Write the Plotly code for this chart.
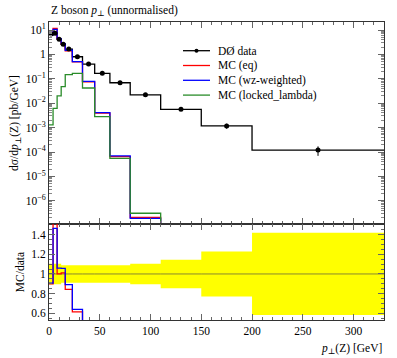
import plotly.graph_objects as go

# ---- data ----
bin_edges = [0, 4, 8, 12, 16, 23, 33, 45, 60, 80, 110, 150, 200, 330]
data_vals = [6.9, 7.3, 4.2, 2.6, 1.66, 0.80, 0.40, 0.168, 0.069, 0.022, 0.0056, 0.00117, 1.2e-4]
data_rel_err = [0.105, 0.105, 0.105, 0.09, 0.09, 0.09, 0.09, 0.09, 0.09, 0.105, 0.145, 0.23, 0.42]
data_err = [v * r for v, r in zip(data_vals, data_rel_err)]

# MC predictions (non-zero bins only, up to 110 GeV)
mc_eq = [6.2, 11.5, 4.2, 2.63, 1.40, 0.49, 0.075, 0.0039, 6.5e-5, 2.1e-7]
mc_wz = [6.25, 10.7, 4.45, 2.75, 1.48, 0.51, 0.078, 0.0041, 7.0e-5, 1.9e-7]
mc_locked = [1.3e-3, 6.2e-3, 0.020, 0.048, 0.148, 0.168, 0.042, 0.0028, 5.5e-5, 3.1e-7]

legend_names = ["DØ data", "MC (eq)", "MC (wz-weighted)", "MC (locked_lambda)"]

y_tick_vals = [1e-6, 1e-5, 1e-4, 1e-3, 1e-2, 1e-1, 1, 10]
y_tick_text = ["10<sup>−6</sup>", "10<sup>−5</sup>", "10<sup>−4</sup>", "10<sup>−3</sup>",
               "10<sup>−2</sup>", "10<sup>−1</sup>", "1", "10<sup>1</sup>"]
r_tick_vals = [0.6, 0.8, 1.0, 1.2, 1.4]
r_tick_text = ["0.6", "0.8", "1", "1.2", "1.4"]
x_tick_vals = [0, 50, 100, 150, 200, 250, 300]

YLOG_RANGE = [-6.95, 1.328]
R_RANGE = [0.53, 1.51]
X_RANGE = [0, 330]

FONT = "Liberation Serif, DejaVu Serif, serif"
RED, BLUE, GREEN = "#ff0000", "#0000ff", "#2a8c2a"
COLORS = ["black", RED, BLUE, GREEN]

W, H = 397, 358
ML, MR, MT, MB = 49, 13, 22, 38
PW, PH = W - ML - MR, H - MT - MB

centers = [(a + b) / 2 for a, b in zip(bin_edges[:-1], bin_edges[1:])]


def step(vals, edges):
    n = len(vals)
    return list(edges[: n + 1]), list(vals) + [vals[-1]]


fig = go.Figure()

# ---- ratio band ----
lo = [1 - r for r in data_rel_err]
hi = [1 + r for r in data_rel_err]
bx, by = step(lo, bin_edges)
fig.add_trace(go.Scatter(x=bx, y=by, mode="lines", line=dict(width=0, shape="hv"),
                         showlegend=False, hoverinfo="skip", xaxis="x2", yaxis="y2"))
bx, by = step(hi, bin_edges)
fig.add_trace(go.Scatter(x=bx, y=by, mode="lines", line=dict(width=0, shape="hv"),
                         fill="tonexty", fillcolor="#ffff00",
                         showlegend=False, hoverinfo="skip", xaxis="x2", yaxis="y2"))
bx, by = step([1.0] * len(data_vals), bin_edges)
fig.add_trace(go.Scatter(x=bx, y=by, mode="lines", line=dict(width=0.8, color="#6b6b3a", shape="hv"),
                         showlegend=False, hoverinfo="skip", xaxis="x2", yaxis="y2"))

# data (main)
sx, sy = step(data_vals, bin_edges)
fig.add_trace(go.Scatter(x=sx, y=sy, mode="lines", line=dict(color="black", width=1.3, shape="hv"),
                         showlegend=False, xaxis="x", yaxis="y"))

floor = 10 ** (YLOG_RANGE[0] - 1)

for vals, col in [(mc_eq, RED), (mc_wz, BLUE), (mc_locked, GREEN)]:
    sx, sy = step(vals, bin_edges)
    sx = sx + [sx[-1]]
    sy = sy + [floor]
    fig.add_trace(go.Scatter(x=sx, y=sy, mode="lines",
                             line=dict(color=col, width=1.3, shape="hv"),
                             showlegend=False, xaxis="x", yaxis="y"))
    ratio = [m / d for m, d in zip(vals, data_vals)] + [0.0] * (len(data_vals) - len(vals))
    rx, ry = step(ratio, bin_edges)
    fig.add_trace(go.Scatter(x=rx, y=ry, mode="lines", line=dict(color=col, width=1.3, shape="hv"),
                             showlegend=False, xaxis="x2", yaxis="y2"))

fig.add_trace(go.Scatter(x=centers, y=data_vals, mode="markers",
                         marker=dict(color="black", size=5),
                         error_y=dict(type="data", array=data_err, color="black", thickness=1, width=0),
                         showlegend=False, xaxis="x", yaxis="y"))

# ---- manual legend (pixel layout -> paper coords) ----
def px_x(p):
    return (p - ML) / PW


def px_y(p):
    return (H - MB - p) / PH


shapes = []
annotations = []
leg_rows = [50.7, 65.5, 80.3, 95.1]
for name, col, ry in zip(legend_names, COLORS, leg_rows):
    shapes.append(dict(type="line", xref="paper", yref="paper",
                       x0=px_x(183), x1=px_x(210), y0=px_y(ry), y1=px_y(ry),
                       line=dict(color=col, width=1.3)))
    annotations.append(dict(text=name, x=px_x(216), y=px_y(ry), xref="paper", yref="paper",
                            xanchor="left", yanchor="middle", showarrow=False,
                            font=dict(family=FONT, size=11.5, color="black")))
shapes.append(dict(type="circle", xref="paper", yref="paper",
                   x0=px_x(194.5), x1=px_x(198.5), y0=px_y(leg_rows[0] + 2), y1=px_y(leg_rows[0] - 2),
                   fillcolor="black", line=dict(color="black", width=0)))

annotations += [
    dict(text="Z boson <i>p</i><sub>⊥</sub> (unnormalised)", x=0, y=1, xref="paper", yref="paper",
         xanchor="left", yanchor="bottom", yshift=2, showarrow=False,
         font=dict(family=FONT, size=11.5)),
    dict(text="<i>p</i><sub>⊥</sub>(Z) [GeV]", x=1, y=0, xref="paper", yref="paper",
         xanchor="right", yanchor="top", yshift=-20, showarrow=False,
         font=dict(family=FONT, size=11.5)),
]

split = 96 / PH
axis_common = dict(showline=True, linecolor="#333", linewidth=1, mirror="allticks",
                   ticks="inside", tickcolor="#666", showgrid=False, zeroline=False,
                   automargin=False,
                   tickfont=dict(family=FONT, size=11.5, color="black"))

fig.update_layout(
    width=W, height=H,
    margin=dict(l=ML, r=MR, t=MT, b=MB, autoexpand=False),
    paper_bgcolor="white", plot_bgcolor="white",
    font=dict(family=FONT, size=11, color="black"),
    showlegend=False,
    shapes=shapes,
    annotations=annotations,
    xaxis=dict(range=X_RANGE, domain=[0, 1], anchor="y", showticklabels=False,
               tickvals=x_tick_vals, ticklen=6,
               minor=dict(ticks="inside", dtick=10, ticklen=3, tickcolor="#666"), **axis_common),
    yaxis=dict(type="log", range=YLOG_RANGE, domain=[split, 1], anchor="x",
               tickmode="array", tickvals=y_tick_vals, ticktext=y_tick_text, ticklen=6,
               minor=dict(ticks="inside", dtick="D1", ticklen=3, tickcolor="#888"),
               title=dict(text="dσ/d<i>p</i><sub>⊥</sub>(Z) [pb/GeV]", standoff=4,
                          font=dict(family=FONT, size=11.5)), **axis_common),
    xaxis2=dict(range=X_RANGE, domain=[0, 1], anchor="y2", tickvals=x_tick_vals, ticklen=6,
                minor=dict(ticks="inside", dtick=10, ticklen=3, tickcolor="#666"), **axis_common),
    yaxis2=dict(range=R_RANGE, domain=[0, split], anchor="x2", tickmode="array",
                tickvals=r_tick_vals, ticktext=r_tick_text, ticklen=6,
                minor=dict(ticks="inside", dtick=0.05, ticklen=3, tickcolor="#666"),
                title=dict(text="MC/data", standoff=4, font=dict(family=FONT, size=11.5)),
                **axis_common),
)

fig.write_html("out.html", config={"displayModeBar": False, "staticPlot": True})

# remove default page margin so the figure sits at the window's top-left corner
with open("out.html", "r", encoding="utf-8") as f:
    html = f.read()
html = html.replace("<head>", "<head><style>html,body{margin:0;padding:0;overflow:hidden}</style>", 1)
with open("out.html", "w", encoding="utf-8") as f:
    f.write(html)
